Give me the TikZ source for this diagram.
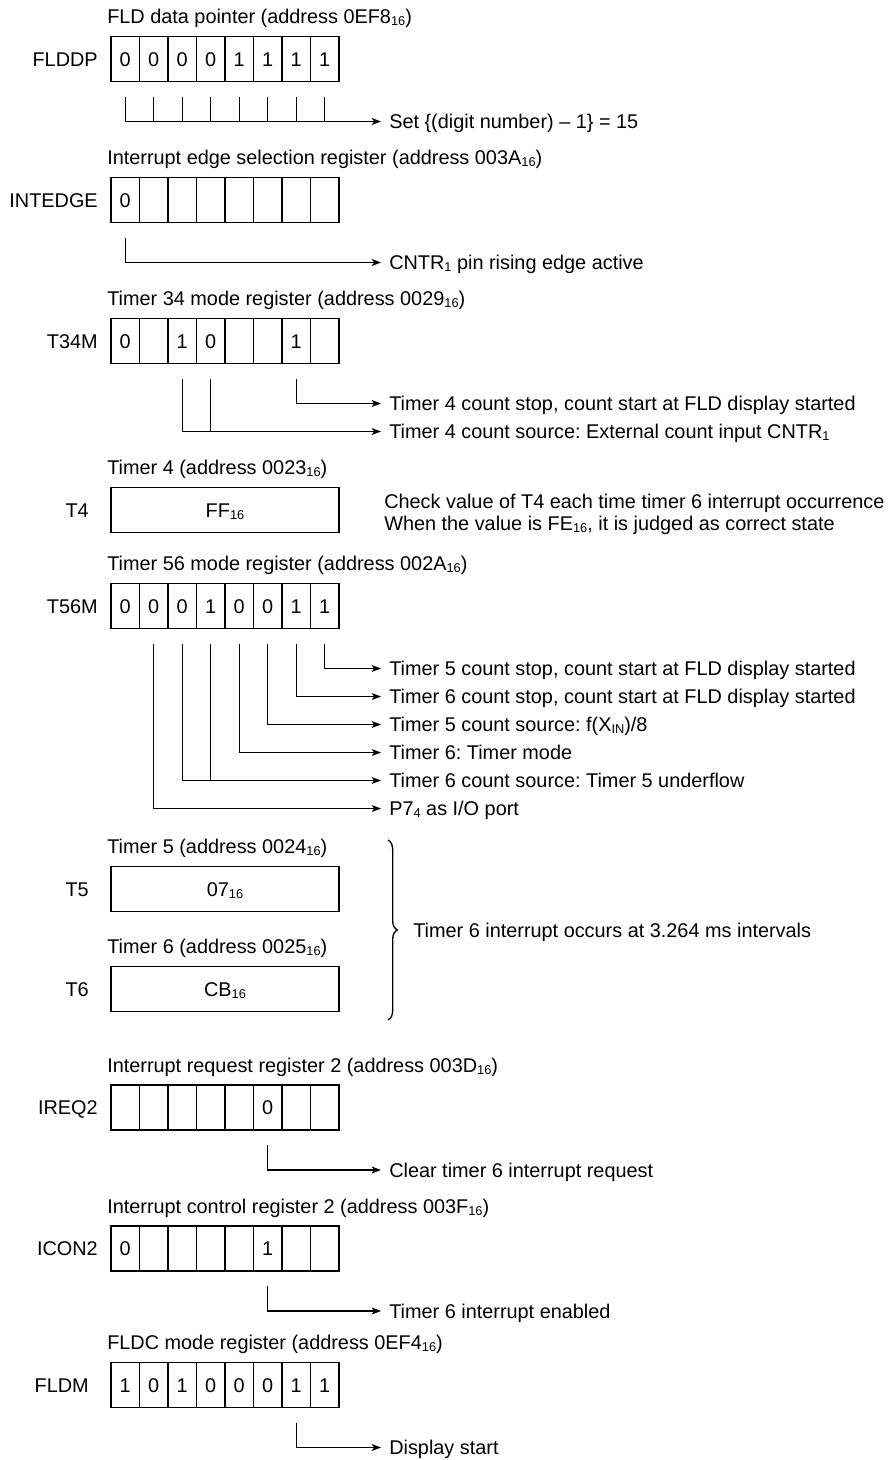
\documentclass[tikz,border=0pt]{standalone}
\usepackage{fontspec}
\setmainfont{Liberation Sans}
\usetikzlibrary{arrows.meta, positioning, decorations.pathreplacing}
\frenchspacing

\newcommand{\hexsub}[1]{\raisebox{-1.6pt}{\fontsize{9.6}{10}\selectfont #1}}
% one register: name, centre y, the eight cells
\newcommand{\bitrow}[3]{%
  \foreach \bitval [count=\k] in {#3} {
    \node[bitcell] (#1-\k) at ({111+(\k-1)*28.5}, #2) {\bitval};
  }%
}

\begin{document}
\begin{tikzpicture}[
    x=0.75pt, y=-0.75pt,
    every node/.style={font=\fontsize{14.9}{17}\selectfont, inner sep=0pt,
        text height=10.6pt, text depth=0pt},
    bitcell/.style={rectangle, draw, line width=1.1pt, anchor=west, outer sep=0pt,
        minimum width=21.375pt, minimum height=33.75pt},
    widebox/.style={rectangle, draw, line width=1.1pt, anchor=west, outer sep=0pt,
        minimum width=171pt, minimum height=33.75pt},
    regname/.style={anchor=east},
    regtitle/.style={anchor=west},
    desc/.style={anchor=west},
    bitline/.style={line width=1pt},
    bitarrow/.style={line width=1pt, -{Stealth[length=7pt, width=5.2pt, inset=1.8pt]}},
]
\useasboundingbox (0,0) rectangle (894,1460);

% --- FLD data pointer ---
\bitrow{flddp}{59}{0,0,0,0,1,1,1,1}
\node[regname, left=9.75pt of flddp-1] (flddp-name) {FLDDP};
\node[regtitle] (flddp-title) at ([xshift=-3pt, yshift=15pt]flddp-1.north west) {FLD data pointer (address 0EF8\hexsub{16})};
\node[desc] (flddp-set) at (389, 121.5) {Set \{(digit number) -- 1\} = 15};
\draw[bitarrow] ([yshift=-11.25pt]flddp-1.south) |- ([xshift=-6pt]flddp-set.west);
\foreach \k in {2,...,8}
  \draw[bitline] ([yshift=-11.25pt]flddp-\k.south) -- (flddp-\k.south |- flddp-set.west);

% --- Interrupt edge selection ---
\bitrow{intedge}{200}{0,{},{},{},{},{},{},{}}
\node[regname, left=9.75pt of intedge-1] (intedge-name) {INTEDGE};
\node[regtitle] (intedge-title) at ([xshift=-3pt, yshift=15pt]intedge-1.north west) {Interrupt edge selection register (address 003A\hexsub{16})};
\node[desc] (intedge-cntr) at (389, 262.5) {CNTR\hexsub{1} pin rising edge active};
\draw[bitarrow] ([yshift=-11.25pt]intedge-1.south) |- ([xshift=-6pt]intedge-cntr.west);

% --- Timer 34 mode ---
\bitrow{t34m}{341}{0,{},1,0,{},{},1,{}}
\node[regname, left=9.75pt of t34m-1] (t34m-name) {T34M};
\node[regtitle] (t34m-title) at ([xshift=-3pt, yshift=15pt]t34m-1.north west) {Timer 34 mode register (address 0029\hexsub{16})};
\node[desc] (t34m-stop) at (389, 403.5) {Timer 4 count stop, count start at FLD display started};
\node[desc] (t34m-src) at (389, 431.5) {Timer 4 count source: External count input CNTR\hexsub{1}};
\draw[bitarrow] ([yshift=-11.25pt]t34m-7.south) |- ([xshift=-6pt]t34m-stop.west);
\draw[bitarrow] ([yshift=-11.25pt]t34m-3.south) |- ([xshift=-6pt]t34m-src.west);
\draw[bitline] ([yshift=-11.25pt]t34m-4.south) -- (t34m-4.south |- t34m-src.west);

% --- Timer 4 ---
\node[widebox] (t4) at (111, 510) {FF\hexsub{16}};
\node[regname, left=16.5pt of t4] (t4-name) {T4};
\node[regtitle] (t4-title) at ([xshift=-3pt, yshift=15pt]t4.north west) {Timer 4 (address 0023\hexsub{16})};
\node[desc] (t4-check) at (384, 501) {Check value of T4 each time timer 6 interrupt occurrence};
\node[desc] (t4-when) at (384, 523) {When the value is FE\hexsub{16}, it is judged as correct state};

% --- Timer 56 mode ---
\bitrow{t56m}{606}{0,0,0,1,0,0,1,1}
\node[regname, left=9.75pt of t56m-1] (t56m-name) {T56M};
\node[regtitle] (t56m-title) at ([xshift=-3pt, yshift=15pt]t56m-1.north west) {Timer 56 mode register (address 002A\hexsub{16})};
\node[desc] (t56m-stop5) at (389, 668.5) {Timer 5 count stop, count start at FLD display started};
\node[desc] (t56m-stop6) at (389, 696.5) {Timer 6 count stop, count start at FLD display started};
\node[desc] (t56m-src5) at (389, 724.5) {Timer 5 count source: f(X\hexsub{IN})/8};
\node[desc] (t56m-mode) at (389, 752.5) {Timer 6: Timer mode};
\node[desc] (t56m-src6) at (389, 780.5) {Timer 6 count source: Timer 5 underflow};
\node[desc] (t56m-port) at (389, 808.5) {P7\hexsub{4} as I/O port};
\draw[bitarrow] ([yshift=-11.25pt]t56m-8.south) |- ([xshift=-6pt]t56m-stop5.west);
\draw[bitarrow] ([yshift=-11.25pt]t56m-7.south) |- ([xshift=-6pt]t56m-stop6.west);
\draw[bitarrow] ([yshift=-11.25pt]t56m-6.south) |- ([xshift=-6pt]t56m-src5.west);
\draw[bitarrow] ([yshift=-11.25pt]t56m-5.south) |- ([xshift=-6pt]t56m-mode.west);
\draw[bitarrow] ([yshift=-11.25pt]t56m-3.south) |- ([xshift=-6pt]t56m-src6.west);
\draw[bitline] ([yshift=-11.25pt]t56m-4.south) -- (t56m-4.south |- t56m-src6.west);
\draw[bitarrow] ([yshift=-11.25pt]t56m-2.south) |- ([xshift=-6pt]t56m-port.west);

% --- Timer 5 and Timer 6 ---
\node[widebox] (t5) at (111, 889) {07\hexsub{16}};
\node[regname, left=16.5pt of t5] (t5-name) {T5};
\node[regtitle] (t5-title) at ([xshift=-3pt, yshift=15pt]t5.north west) {Timer 5 (address 0024\hexsub{16})};
\node[widebox] (t6) at (111, 989) {CB\hexsub{16}};
\node[regname, left=16.5pt of t6] (t6-name) {T6};
\node[regtitle] (t6-title) at ([xshift=-3pt, yshift=15pt]t6.north west) {Timer 6 (address 0025\hexsub{16})};
\coordinate (brace-top) at (388, 840);
\coordinate (brace-bot) at (388, 1020);
\draw[decorate, decoration={brace, amplitude=7pt}, line width=1pt] (brace-top) -- (brace-bot);
\node[desc] (t6-period) at (413, 930) {Timer 6 interrupt occurs at 3.264 ms intervals};

% --- Interrupt request register 2 ---
\bitrow{ireq2}{1107.5}{{},{},{},{},{},0,{},{}}
\node[regname, left=9.75pt of ireq2-1] (ireq2-name) {IREQ2};
\node[regtitle] (ireq2-title) at ([xshift=-3pt, yshift=15pt]ireq2-1.north west) {Interrupt request register 2 (address 003D\hexsub{16})};
\node[desc] (ireq2-clear) at (389, 1170) {Clear timer 6 interrupt request};
\draw[bitarrow] ([yshift=-11.25pt]ireq2-6.south) |- ([xshift=-6pt]ireq2-clear.west);

% --- Interrupt control register 2 ---
\bitrow{icon2}{1248.5}{0,{},{},{},{},1,{},{}}
\node[regname, left=9.75pt of icon2-1] (icon2-name) {ICON2};
\node[regtitle] (icon2-title) at ([xshift=-3pt, yshift=15pt]icon2-1.north west) {Interrupt control register 2 (address 003F\hexsub{16})};
\node[desc] (icon2-enable) at (389, 1311) {Timer 6 interrupt enabled};
\draw[bitarrow] ([yshift=-11.25pt]icon2-6.south) |- ([xshift=-6pt]icon2-enable.west);

% --- FLDC mode ---
\bitrow{fldm}{1385}{1,0,1,0,0,0,1,1}
\node[regname, left=16.5pt of fldm-1] (fldm-name) {FLDM};
\node[regtitle] (fldm-title) at ([xshift=-3pt, yshift=15pt]fldm-1.north west) {FLDC mode register (address 0EF4\hexsub{16})};
\node[desc] (fldm-start) at (389, 1447.5) {Display start};
\draw[bitarrow] ([yshift=-11.25pt]fldm-7.south) |- ([xshift=-6pt]fldm-start.west);

\end{tikzpicture}
\end{document}
